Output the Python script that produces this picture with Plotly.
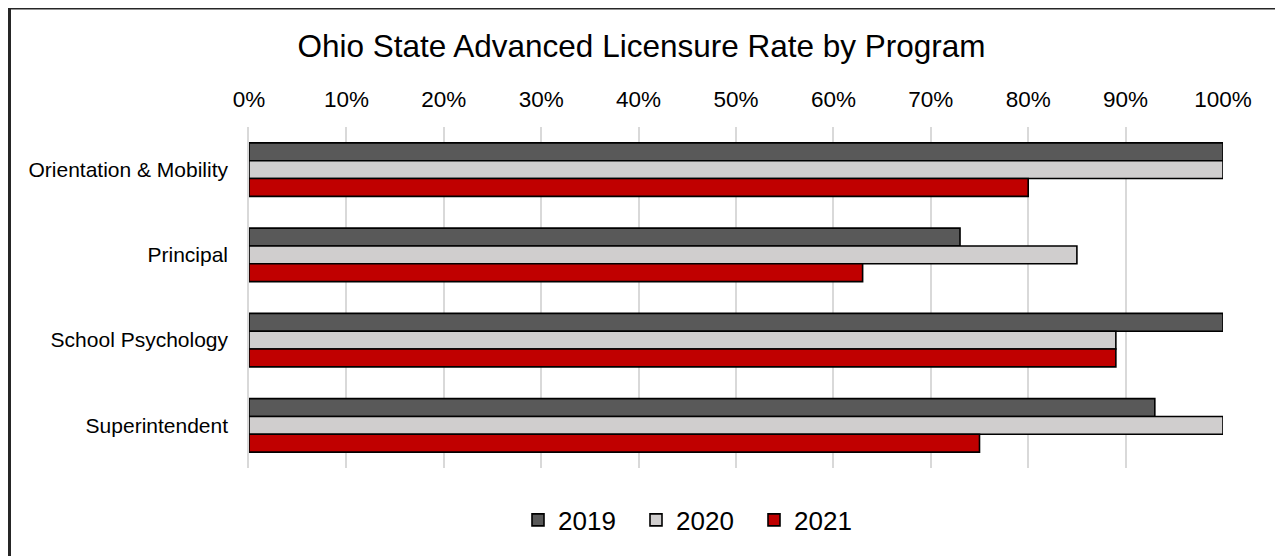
import plotly.graph_objects as go

programs = ["Orientation & Mobility", "Principal", "School Psychology", "Superintendent"]
years = ["2019", "2020", "2021"]
rate_2019 = [100, 73, 100, 93]
rate_2020 = [100, 85, 89, 100]
rate_2021 = [80, 63, 89, 75]
colors = ["#595959", "#D0CECE", "#C00000"]
tick_vals = [0, 10, 20, 30, 40, 50, 60, 70, 80, 90, 100]
tick_text = [f"{v}%" for v in tick_vals]

# page body offsets the figure by 8px; positions below are in figure pixels
W, H = 1275, 548
L, R, T, B = 241, 60, 119, 88
pw, ph = W - L - R, H - T - B

def px_x(p):
    return (p - L) / pw

def px_y(p):
    return (H - B - p) / ph

fig = go.Figure()
for name, vals, col in zip(years, [rate_2019, rate_2020, rate_2021], colors):
    fig.add_trace(go.Bar(
        y=programs, x=vals, name=name, orientation="h",
        marker=dict(color=col, line=dict(color="#000000", width=1.6)),
    ))

fig.update_layout(
    width=W, height=H, autosize=False,
    margin=dict(l=L, r=R, t=T, b=B, pad=0, autoexpand=False),
    paper_bgcolor="white", plot_bgcolor="white",
    barmode="group", bargap=0.373, bargroupgap=0,
    font=dict(family="Liberation Sans, Arial", color="#000000"),
    title=dict(text="Ohio State Advanced Licensure Rate by Program",
               font=dict(size=31.5, color="#000000"),
               x=633.5 / W, xanchor="center", xref="container",
               y=1 - 38 / H, yanchor="middle", yref="container"),
    xaxis=dict(side="top", range=[0, 100], tickvals=tick_vals, ticktext=tick_text,
               showgrid=True, gridcolor="#D9D9D9", gridwidth=1.5,
               zeroline=False, showline=False, ticks="", tickangle=0,
               tickfont=dict(size=22.5), ticklabelstandoff=15, automargin=False),
    yaxis=dict(autorange="reversed", showgrid=False, zeroline=False,
               showline=True, linecolor="#D9D9D9", linewidth=1.5,
               ticks="", tickfont=dict(size=21),
               ticklabelstandoff=15, automargin=False),
    legend=dict(orientation="h", x=px_x(510), xanchor="left", xref="paper",
                y=px_y(512), yanchor="middle", entrywidth=73,
                font=dict(size=26), traceorder="normal"),
    shapes=[dict(type="rect", xref="paper", yref="paper",
                 x0=px_x(1.5), x1=px_x(1271.5), y0=px_y(570), y1=px_y(0),
                 line=dict(color="#262626", width=3), layer="above")],
)

fig.write_html("out.html")
